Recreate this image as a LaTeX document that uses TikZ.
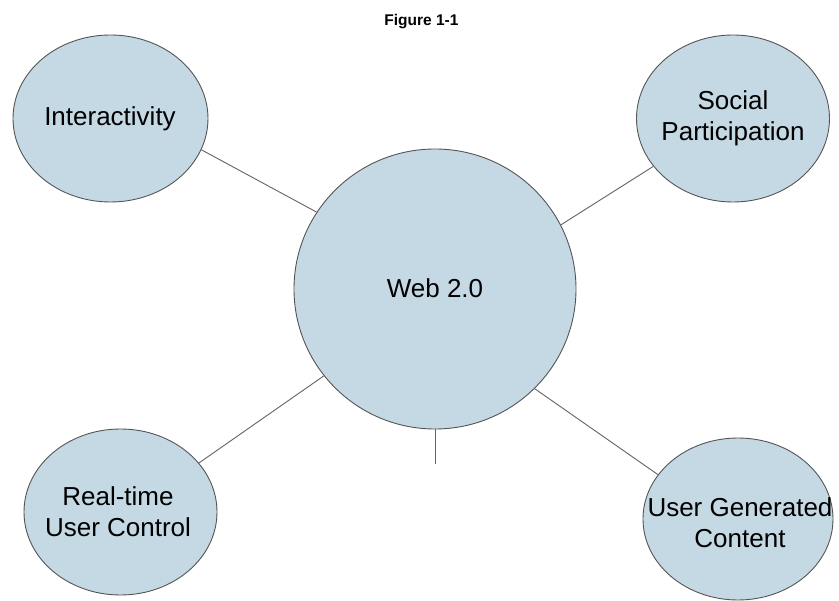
\documentclass[tikz,border=0pt]{standalone}
\usepackage{fontspec}
\setmainfont{Liberation Sans}
\usetikzlibrary{shapes.geometric}
\definecolor{bubblefill}{RGB}{197,217,228}
\definecolor{bubbleline}{RGB}{85,85,85}
\definecolor{linkline}{RGB}{100,100,100}
\begin{document}
\begin{tikzpicture}[x=1pt,y=-1pt,
  bubble/.style={ellipse,draw=bubbleline,fill=bubblefill,line width=0.9pt,inner sep=0pt},
  bubbletext/.style={inner sep=0pt,font=\fontsize{26}{31}\selectfont,align=center},
  link/.style={draw=linkline,line width=0.9pt}]
\useasboundingbox (0,0) rectangle (839,601);
\fill[white] (0,0) rectangle (839,601);
\node[font=\bfseries\fontsize{15.5}{19}\selectfont] (title) at (421.5,22) {Figure 1-1};
\node[bubble,minimum width=282pt,minimum height=280pt] (web) at (435,289) {};
\node[bubble,minimum width=195pt,minimum height=167pt] (inter) at (110.5,118.5) {};
\node[bubble,minimum width=193pt,minimum height=167pt] (social) at (733,118.5) {};
\node[bubble,minimum width=193pt,minimum height=166pt] (real) at (120.5,512) {};
\node[bubble,minimum width=190pt,minimum height=162pt] (ugc) at (738,519) {};
\node[bubbletext] (webtext) at (435,288) {Web 2.0};
\node[bubbletext] (intertext) at (110,119) {Interactivity};
\node[bubbletext] (socialtext) at (733,118) {Social\\Participation};
\node[bubbletext] (realtext) at (118,512) {Real-time\\User Control};
\node[bubbletext] (ugctext) at (740,523) {User Generated\\Content};
\coordinate (stub) at (435,464);
\draw[link] (inter.341) -- (web.147);
\draw[link] (social.211) -- (web.27);
\draw[link] (real.32) -- (web.218);
\draw[link] (ugc.151) -- (web.315);
\draw[link] (web.south) -- (stub);
\end{tikzpicture}
\end{document}
